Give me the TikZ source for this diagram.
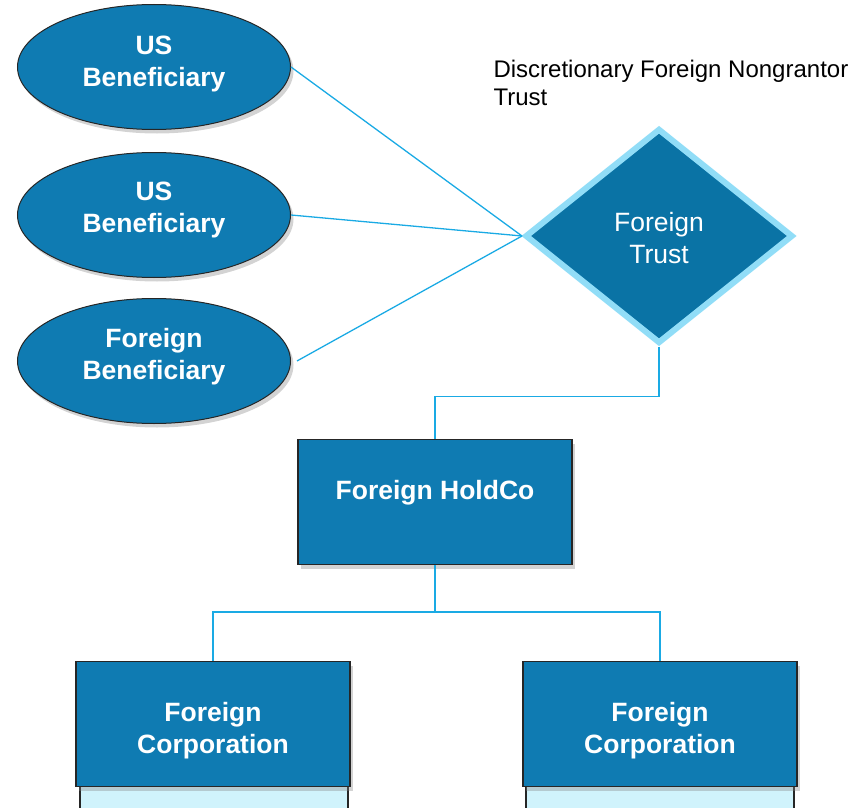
\documentclass[tikz,border=0pt]{standalone}
\usepackage{fontspec}
\setmainfont{Liberation Sans}
\definecolor{tealblue}{RGB}{15,123,178}
\definecolor{trustblue}{RGB}{10,115,165}
\definecolor{paleedge}{RGB}{145,221,247}
\definecolor{linkcyan}{RGB}{26,170,228}
\definecolor{palestrip}{RGB}{208,243,252}
\colorlet{darkrim}{black!85}
\usetikzlibrary{positioning, arrows.meta, shapes.geometric, shadows}
\tikzset{
  softshadow/.style={drop shadow={opacity=0.35, shadow xshift=3pt, shadow yshift=-4pt}},
  benefbase/.style={ellipse, draw=darkrim, line width=1pt, fill=tealblue, softshadow,
    minimum width=273pt, minimum height=125pt, inner sep=0pt},
  benefbox/.style={font=\fontsize{26.5}{32}\selectfont\bfseries, text=white, align=center},
  trustbase/.style={diamond, draw=paleedge, line width=6pt, fill=trustblue,
    minimum width=268pt, minimum height=215pt, inner sep=0pt, aspect=1.25},
  trusttext/.style={font=\fontsize{26.5}{32}\selectfont, text=white, align=center},
  entitybase/.style={draw=darkrim, line width=1.2pt, fill=tealblue, softshadow,
    minimum width=274pt, minimum height=125pt, inner sep=0pt},
  entitytext/.style={font=\fontsize{26.5}{32}\selectfont\bfseries, text=white, align=center},
  stripbase/.style={draw=darkrim, line width=1.2pt, fill=palestrip,
    minimum width=268pt, minimum height=40pt, inner sep=0pt},
  link/.style={draw=linkcyan, line width=1.3pt},
  notetext/.style={font=\fontsize{24}{28}\selectfont, align=left},
}
\begin{document}
\begin{tikzpicture}[x=1pt, y=-1pt]
  \useasboundingbox (0,0) rectangle (863,808);
  \clip (0,0) rectangle (863,808);

  % beneficiaries
  \node[benefbase] (ben1) at (154, 67) {};
  \node[benefbox] at (154, 64) {US\\Beneficiary};
  \node[benefbase] (ben2) at (154, 215) {};
  \node[benefbox] at (154, 210) {US\\Beneficiary};
  \node[benefbase] (ben3) at (154, 361) {};
  \node[benefbox] at (154, 357) {Foreign\\Beneficiary};

  % trust
  \node[notetext, anchor=north west] (note) at (490, 57) {Discretionary Foreign Nongrantor\\Trust};
  \node[trustbase] (trust) at (659, 236) {};
  \node[trusttext] at (659, 238) {Foreign\\Trust};

  % companies
  \node[stripbase] (strip1) at (214, 805) {};
  \node[stripbase] (strip2) at (660, 805) {};
  \node[entitybase] (holdco) at (435, 502) {};
  \node[entitytext] at (435, 493) {Foreign HoldCo};
  \node[entitybase] (corp1) at (213, 724) {};
  \node[entitytext] at (213, 731) {Foreign\\Corporation};
  \node[entitybase] (corp2) at (660, 724) {};
  \node[entitytext] at (660, 731) {Foreign\\Corporation};

  \draw[link] (ben1.east) -- (trust.west);
  \draw[link] (ben2.east) -- (trust.west);
  \draw[link] ([xshift=6pt]ben3.east) -- (trust.west);
  \draw[link] (trust.south) -- ++(0,50) -| (holdco.north);
  \draw[link] (holdco.south) -- ++(0,47) -| (corp1.north);
  \draw[link] (holdco.south) -- ++(0,47) -| (corp2.north);
\end{tikzpicture}
\end{document}
